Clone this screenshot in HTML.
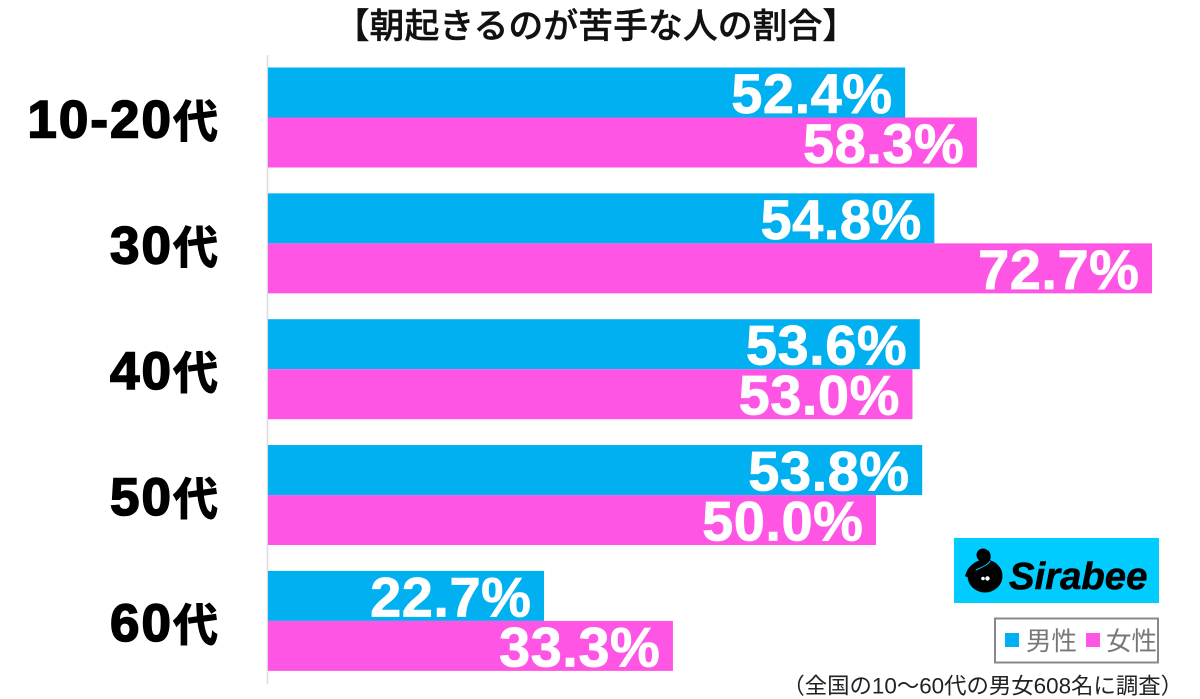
<!DOCTYPE html>
<html lang="ja">
<head>
<meta charset="utf-8">
<title>朝起きるのが苦手な人の割合</title>
<style>
html,body{margin:0;padding:0;background:#fff;}
#chart{display:block;width:1200px;height:699px;}
text{font-family:"Liberation Sans","Noto Sans CJK JP",sans-serif;}
</style>
</head>
<body>
<svg id="chart" xmlns="http://www.w3.org/2000/svg" width="1200" height="699" viewBox="0 0 1200 699">
  <rect x="0" y="0" width="1200" height="699" fill="#ffffff"/>
  <text x="596" y="38" text-anchor="middle" font-size="34.9" font-weight="500" fill="#111" stroke="#111" stroke-width=".4">【朝起きるのが苦手な人の割合】</text>
  <line x1="267.5" y1="55" x2="267.5" y2="684" stroke="#dcdcdc" stroke-width="1.5"/>
  <g id="bars"></g>
  <g id="categories"></g>
  <g id="values"></g>

  <g>
    <rect x="954" y="538" width="205" height="65" fill="#00ccff"/>
    <ellipse cx="985" cy="576" rx="17.5" ry="16.5" fill="#000"/>
    <path d="M986 552 C991 560 984 562 977 565 C971 568 969 572 968 577" fill="none" stroke="#000" stroke-width="6"/>
    <path d="M976 570 C982 567 988 565 990 561" fill="none" stroke="#00ccff" stroke-width="1"/>
    <circle cx="983" cy="555" r="6.5" fill="#000"/>
    <circle cx="983" cy="578.5" r="1.8" fill="#fff"/>
    <circle cx="987.5" cy="578.5" r="2.2" fill="#fff"/>
    <text x="1009" y="589" font-size="38.3" font-weight="700" font-style="italic" fill="#000" stroke="#000" stroke-width=".6">Sirabee</text>
  </g>

  <g>
    <rect x="995" y="618.5" width="163" height="44" fill="#fff" stroke="#888" stroke-width="2"/>
    <rect x="1005" y="633" width="14" height="14" fill="#00b0f0"/>
    <text x="1026" y="650" font-size="25.5" fill="#777">男性</text>
    <rect x="1086" y="633" width="14" height="14" fill="#ff55e5"/>
    <text x="1106" y="650" font-size="25.5" fill="#777">女性</text>
  </g>

  <text x="1183" y="693.5" text-anchor="end" font-size="22.4" fill="#222">（全国の10〜60代の男女608名に調査）</text>
</svg>
<script>
var categories = ["10-20代", "30代", "40代", "50代", "60代"];
var maleValues = [52.4, 54.8, 53.6, 53.8, 22.7];
var femaleValues = [58.3, 72.7, 53.0, 50.0, 33.3];

var NS = "http://www.w3.org/2000/svg";
var barsGroup = document.getElementById("bars");
var categoriesGroup = document.getElementById("categories");
var valuesGroup = document.getElementById("values");

function xScale(v) { return 268 + v * 12.16; }
function groupTop(i) { return 67.5 + i * 125.85; }
var BAR_H = 50;

function drawBar(i, values, offset, color, seriesName) {
  var v = values[i];
  var r = document.createElementNS(NS, "rect");
  r.setAttribute("x", xScale(0));
  r.setAttribute("y", groupTop(i) + offset);
  r.setAttribute("width", xScale(v) - xScale(0));
  r.setAttribute("height", BAR_H);
  r.setAttribute("fill", color);
  
  
  barsGroup.appendChild(r);

  var t = document.createElementNS(NS, "text");
  t.setAttribute("x", xScale(v) - 12.6);
  t.setAttribute("y", groupTop(i) + offset + 45.5);
  t.setAttribute("text-anchor", "end");
  t.setAttribute("font-size", "56");
  t.setAttribute("font-weight", "700");
  t.setAttribute("letter-spacing", "0.5");
  t.setAttribute("fill", "#ffffff");
  t.setAttribute("stroke", "#ffffff");
  t.setAttribute("stroke-width", "0.8");
  t.textContent = v.toFixed(1) + "%";
  
  
  valuesGroup.appendChild(t);
}

categories.forEach(function (c, i) {
  drawBar(i, maleValues, 0, "#00b0f0", "male");
  drawBar(i, femaleValues, BAR_H, "#ff55e5", "female");

  var t = document.createElementNS(NS, "text");
  t.setAttribute("x", 218);
  t.setAttribute("y", groupTop(i) + 70);
  t.setAttribute("text-anchor", "end");
  t.setAttribute("font-weight", "700");
  t.setAttribute("fill", "#000000");
  t.setAttribute("stroke", "#000000");
  
  

  var digits = document.createElementNS(NS, "tspan");
  digits.setAttribute("font-size", "53");
  digits.setAttribute("letter-spacing", "2");
  digits.setAttribute("stroke-width", "1.6");
  digits.textContent = c.slice(0, -1);
  
  
  t.appendChild(digits);

  var suffix = document.createElementNS(NS, "tspan");
  suffix.setAttribute("font-size", "45");
  suffix.setAttribute("stroke-width", "1");
  suffix.textContent = c.slice(-1);
  
  
  t.appendChild(suffix);

  categoriesGroup.appendChild(t);
});
</script>
</body>
</html>
